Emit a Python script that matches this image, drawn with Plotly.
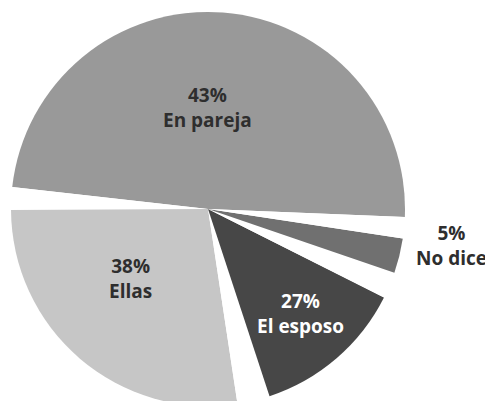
from plotly import graph_objects as go

# slices, going counter-clockwise from the right edge of "En pareja"
labels = ["En pareja", "Ellas", "El esposo", "No dice"]
pct_text = ["43%", "38%", "27%", "5%"]
# arc of each slice as drawn in the picture (degrees)
arc_deg = [175.9, 98.3, 45.1, 10.3]
# white wedges drawn after each slice (degrees)
gap_deg = [6.7, 9.6, 7.8, 6.3]

colors = ["#999999", "#c6c6c6", "#474747", "#707070"]
text_colors = ["#2e2e2e", "#2e2e2e", "#ffffff", "#2e2e2e"]
# where each label block sits (paper coords)
label_pos = [(0.4037, 0.7531), (0.2475, 0.3242), (0.5923, 0.2394), (0.9006, 0.4065)]

values, slice_colors, names = [], [], []
for lab, arc, gap, col in zip(labels, arc_deg, gap_deg, colors):
    values += [arc, gap]
    slice_colors += [col, "white"]
    names += [lab, lab + " (gap)"]

# right edge of "En pareja" sits at 92.3 deg clockwise from 12 o'clock;
# with counterclockwise direction plotly puts the first slice clockwise of `rotation`
start_edge = 92.3

fig = go.Figure(
    go.Pie(
        labels=names,
        values=values,
        sort=False,
        direction="counterclockwise",
        rotation=start_edge - arc_deg[0],
        marker=dict(colors=slice_colors, line=dict(width=0)),
        textinfo="none",
        hoverinfo="skip",
        showlegend=False,
        # page body adds an 8px offset, so the pie is drawn 8px up/left
        domain=dict(x=[0.0061, 0.8053], y=[0.0075, 0.99]),
    )
)

for lab, pct, (x, y), tc in zip(labels, pct_text, label_pos, text_colors):
    fig.add_annotation(
        x=x, y=y, xref="paper", yref="paper",
        xanchor="center", yanchor="middle",
        text=f"{pct}<br>{lab}",
        showarrow=False,
        font=dict(family="Open Sans", size=19, color=tc, weight="bold"),
        align="center",
    )

fig.update_layout(
    width=493,
    height=401,
    margin={"r": 0, "t": 0, "l": 0, "b": 0},
    paper_bgcolor="white",
    plot_bgcolor="white",
)

fig.write_html("out.html")
